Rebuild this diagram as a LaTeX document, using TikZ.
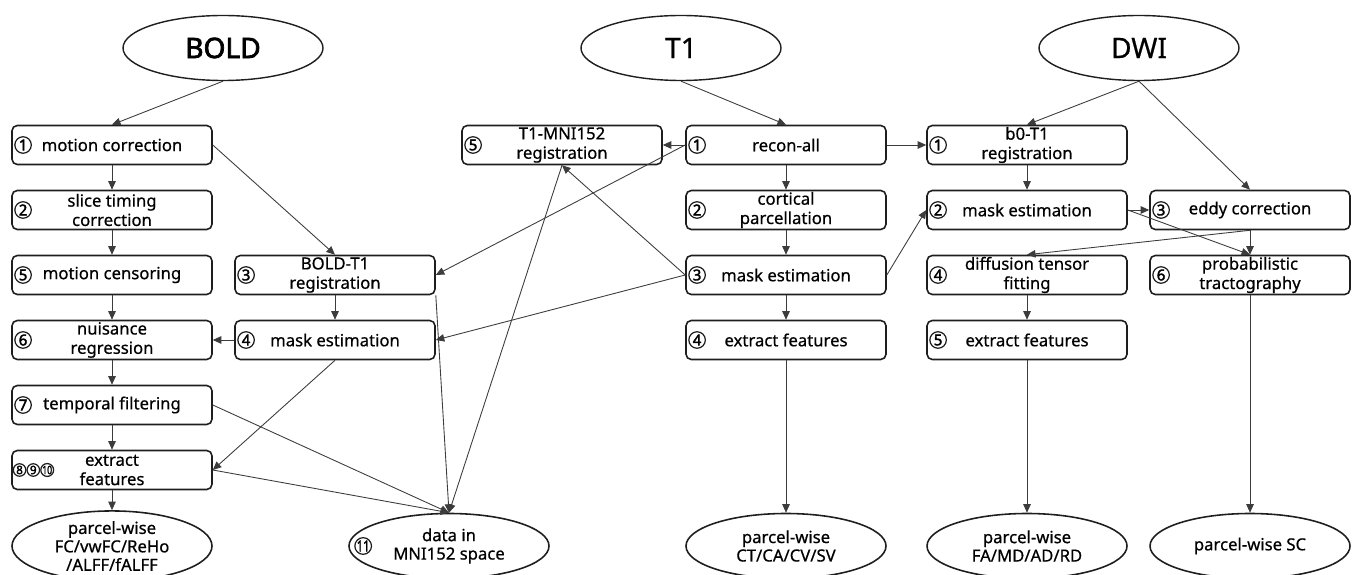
\documentclass[tikz,border=0pt]{standalone}
\usepackage{fontspec}
\setmainfont{Noto Sans}[FakeBold=0.6]
\newfontfamily\heavyfont{Noto Sans}[FakeBold=2.5]
\usetikzlibrary{arrows.meta,positioning,shapes.geometric}
\definecolor{ink}{RGB}{30,30,30}
\definecolor{wire}{RGB}{60,60,60}
\tikzset{
  >={Triangle[length=1.7mm,width=1.5mm]},
  stage/.style={draw=ink,rounded corners=3pt,line width=0.9pt,
    minimum width=40mm,minimum height=7.8mm,inner ysep=0.5pt,align=center,
    font=\fontsize{9.5}{11}\selectfont},
  source/.style={ellipse,draw=ink,line width=0.8pt,minimum width=40mm,
    minimum height=13mm,inner sep=0pt,font=\fontsize{16}{18}\selectfont},
  result/.style={ellipse,draw=ink,line width=0.9pt,minimum width=40mm,
    minimum height=13mm,inner sep=0pt,align=center,
    font=\fontsize{9.5}{10.5}\selectfont},
  num/.style={circle,draw=ink,line width=0.7pt,inner sep=0pt,minimum size=3.3mm,
    font=\fontsize{8.5}{9}\selectfont\heavyfont},
  num small/.style={num,minimum size=2.5mm,font=\fontsize{6.5}{7}\selectfont\heavyfont},
  flow/.style={->,draw=wire,line width=0.5pt},
}

\begin{document}
\begin{tikzpicture}
  \useasboundingbox (0,0) rectangle (27.08,-11.5);
  % sources
  \node[source,font=\fontsize{16}{18}\selectfont\heavyfont] (bold) at (4.46,-0.96) {BOLD};
  \node[source] (tone) at (13.62,-0.96) {T1};
  \node[source] (dwi) at (22.78,-0.96) {DWI};
  % BOLD branch
  \node[stage] (b1) at (2.24,-2.9) {motion correction};
  \node[stage] (b2) at (2.24,-4.2) {slice timing\\correction};
  \node[stage] (b5) at (2.24,-5.5) {motion censoring};
  \node[stage] (b6) at (2.24,-6.8) {nuisance\\regression};
  \node[stage] (b7) at (2.24,-8.1) {temporal filtering};
  \node[stage] (b8) at (2.24,-9.4) {extract\\features};
  \node[stage] (b3) at (6.7,-5.5) {BOLD-T1\\registration};
  \node[stage] (b4) at (6.7,-6.8) {mask estimation};
  \node[result] (pb) at (2.24,-10.92) {parcel-wise\\FC/vwFC/ReHo\\/ALFF/fALFF};
  \node[result] (mni) at (8.98,-10.92) {data in\\MNI152 space};
  % T1 branch
  \node[stage] (t5) at (11.24,-2.9) {T1-MNI152\\registration};
  \node[stage] (t1) at (15.72,-2.9) {recon-all};
  \node[stage] (t2) at (15.72,-4.2) {cortical\\parcellation};
  \node[stage] (t3) at (15.72,-5.5) {mask estimation};
  \node[stage] (t4) at (15.72,-6.8) {extract features};
  \node[result] (pt) at (15.72,-10.92) {parcel-wise\\CT/CA/CV/SV};
  % DWI branch
  \node[stage] (d1) at (20.54,-2.9) {b0-T1\\registration};
  \node[stage] (d2) at (20.54,-4.2) {mask estimation};
  \node[stage] (d4) at (20.54,-5.5) {diffusion tensor\\fitting};
  \node[stage] (d5) at (20.54,-6.8) {extract features};
  \node[stage] (d3) at (25.0,-4.2) {eddy correction};
  \node[stage] (d6) at (25.0,-5.5) {probabilistic\\tractography};
  \node[result] (pfa) at (20.54,-10.92) {parcel-wise\\FA/MD/AD/RD};
  \node[result] (psc) at (25.0,-10.92) {parcel-wise SC};

  % step numbers
  \foreach \n/\k in {b1/1,b2/2,b5/5,b6/6,b7/7,b3/3,b4/4,
                     t5/5,t1/1,t2/2,t3/3,t4/4,
                     d1/1,d2/2,d3/3,d4/4,d5/5,d6/6}
    \node[num,right=0.6mm of \n.west] (n-\n) {\k};
  \node[num small,right=0.3mm of b8.west] (n8) {8};
  \node[num small,right=0pt of n8] (n9) {9};
  \node[num small,right=0pt of n9] (n10) {\scalebox{0.75}[1]{10}};
  \node[num,right=1.2mm of mni.west] (n11) {\scalebox{0.75}[1]{11}};

  % connectors
  \draw[flow] (bold.south) -- (b1.north);
  \foreach \a/\b in {b1/b2,b2/b5,b5/b6,b6/b7,b7/b8,b8/pb,b3/b4}
    \draw[flow] (\a) -- (\b);
  \draw[flow] (b1.east) -- (b3.north);
  \draw[flow] (b4.west) -- (b6.east);
  \draw[flow] (b4.south) -- (b8.east);
  \draw[flow] (b7.east) -- (mni.north);
  \draw[flow] (b8.east) -- (mni.north);
  \draw[flow] (b3.south east) -- (mni.north);
  \draw[flow] (t5.south) -- (mni.north);

  \draw[flow] (tone.south) -- (t1.north);
  \foreach \a/\b in {t1/t2,t2/t3,t3/t4,t4/pt}
    \draw[flow] (\a) -- (\b);
  \draw[flow] (t1.west) -- (t5.east);
  \draw[flow] (t1.west) -- (b3.east);
  \draw[flow] (t1.east) -- (d1.west);
  \draw[flow] (t3.west) -- (t5.south);
  \draw[flow] (t3.west) -- (b4.east);
  \draw[flow] (t3.east) -- (d2.west);

  \draw[flow] (dwi.south) -- (d1.north);
  \draw[flow] (dwi.south) -- (d3.north);
  \foreach \a/\b in {d1/d2,d4/d5,d5/pfa,d6/psc}
    \draw[flow] (\a) -- (\b);
  \draw[flow] (d2.east) -- (d3.west);
  \draw[flow] (d2.east) -- (d6.north);
  \draw[flow] (d3.south) -- (d6.north);
  \draw[flow] (d3.south) -- (d4.north);
\end{tikzpicture}
\end{document}
